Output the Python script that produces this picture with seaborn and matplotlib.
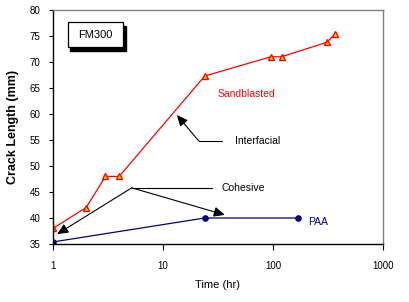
import matplotlib
matplotlib.use("Agg")
import matplotlib.pyplot as plt
import seaborn as sns
import pandas as pd
from matplotlib.patches import Rectangle

# ---- data ----
sand_time = [1, 2, 3, 4, 24, 96, 120, 310, 365]
sand_len = [38, 42, 48, 48, 67.3, 71, 71, 73.8, 75.3]
paa_time = [1, 24, 168]
paa_len = [35.4, 40, 40]
x_ticks = [1, 10, 100, 1000]
x_labels = ["1", "10", "100", "1000"]
y_ticks = [35, 40, 45, 50, 55, 60, 65, 70, 75, 80]
y_labels = ["35", "40", "45", "50", "55", "60", "65", "70", "75", "80"]

df = pd.concat([
    pd.DataFrame({"Time": sand_time, "Length": sand_len, "Series": "Sandblasted"}),
    pd.DataFrame({"Time": paa_time, "Length": paa_len, "Series": "PAA"}),
])

sns.set_theme(style="white")
plt.rcParams["font.family"] = ["Liberation Sans", "DejaVu Sans"]
plt.rcParams["text.color"] = "black"
plt.rcParams["axes.labelcolor"] = "black"
plt.rcParams["xtick.color"] = "black"
plt.rcParams["ytick.color"] = "black"

fig = plt.figure(figsize=(4.09, 3.02), dpi=100)
ax = fig.add_axes([0.1296, 0.192, 0.8064, 0.775])

sns.lineplot(data=df[df.Series == "Sandblasted"], x="Time", y="Length", ax=ax,
             color="#FF0000", lw=0.9, marker="^", markersize=5,
             markerfacecolor="#FFE000", markeredgecolor="#FF0000", markeredgewidth=1.0,
             legend=False)
sns.lineplot(data=df[df.Series == "PAA"], x="Time", y="Length", ax=ax,
             color="#000080", lw=0.9, marker="o", markersize=4,
             markerfacecolor="#000080", markeredgecolor="#000080", legend=False)

ax.set_xscale("log")
ax.set_xlim(1, 1000)
ax.set_ylim(35, 80)
ax.set_xticks(x_ticks)
ax.set_xticklabels(x_labels)
ax.minorticks_off()
ax.set_yticks(y_ticks)
ax.set_yticklabels(y_labels)
ax.tick_params(axis="both", labelsize=7, direction="out", length=3, width=0.8,
               color="black", labelcolor="black", bottom=True, left=True)
ax.tick_params(axis="x", pad=8, length=4)
ax.tick_params(axis="y", pad=6)

for s in ["left", "bottom"]:
    ax.spines[s].set_color("black")
    ax.spines[s].set_linewidth(1.0)
for s in ["top", "right"]:
    ax.spines[s].set_color("#808080")
    ax.spines[s].set_linewidth(1.0)

ax.set_xlabel("Time (hr)", fontsize=8, labelpad=7, color="black")
ax.set_ylabel("Crack Length (mm)", fontsize=9, fontweight="bold", labelpad=8, color="black")

# series labels
ax.text(58, 63.8, "Sandblasted", color="#FF0000", fontsize=7.5, ha="center", va="center")
ax.text(208, 39.2, "PAA", color="#000080", fontsize=7.5, ha="left", va="center")

# FM300 box with shadow
ax.add_patch(Rectangle((0.053, 0.825), 0.168, 0.107, transform=ax.transAxes,
                       facecolor="black", edgecolor="black", zorder=4, clip_on=False))
ax.add_patch(Rectangle((0.045, 0.842), 0.168, 0.107, transform=ax.transAxes,
                       facecolor="white", edgecolor="black", lw=0.9, zorder=5, clip_on=False))
ax.text(0.129, 0.895, "FM300", transform=ax.transAxes, fontsize=8,
        ha="center", va="center", zorder=6, color="black")

# Interfacial annotation
arrow_kw = dict(arrowstyle="-|>,head_length=0.55,head_width=0.25", color="black",
                lw=0.8, shrinkA=0, shrinkB=0)
ax.plot([21.2, 34.4], [54.8, 54.8], color="black", lw=0.8)
ax.annotate("", xy=(13.4, 59.8), xytext=(21.2, 54.8), arrowprops=arrow_kw)
ax.text(45.2, 54.8, "Interfacial", fontsize=7.5, ha="left", va="center", color="black")

# Cohesive annotation
ax.plot([5.2, 27.9], [45.8, 45.8], color="black", lw=0.8)
ax.annotate("", xy=(1.09, 36.9), xytext=(5.2, 45.8), arrowprops=arrow_kw)
ax.annotate("", xy=(36.6, 40.6), xytext=(5.2, 45.8), arrowprops=arrow_kw)
ax.text(34.4, 45.8, "Cohesive", fontsize=7.5, ha="left", va="center", color="black")

fig.savefig("out.png", dpi=100)
